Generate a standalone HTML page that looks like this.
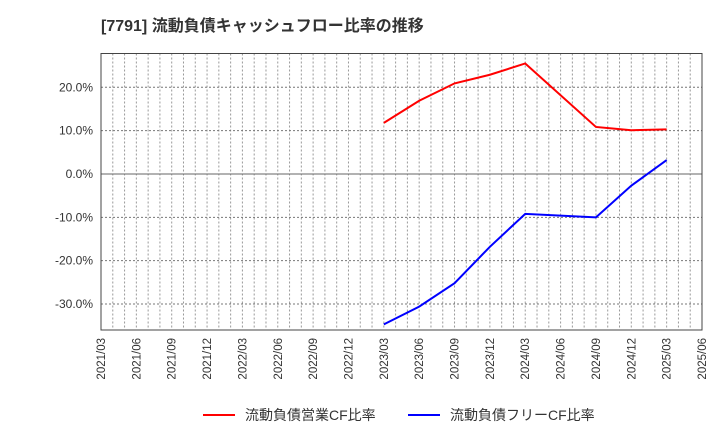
<!DOCTYPE html>
<html><head><meta charset="utf-8"><style>
body{margin:0;background:#fff;}
svg{display:block;font-family:"Liberation Sans","Noto Sans CJK JP",sans-serif;}
</style></head><body>
<svg id="c" width="720" height="440">
<text x="101" y="31" font-size="16" font-weight="bold" fill="#333">[7791]  流動負債キャッシュフロー比率の推移</text>
</svg>
<script>
const xLabels=["2021/03","2021/06","2021/09","2021/12","2022/03","2022/06","2022/09","2022/12","2023/03","2023/06","2023/09","2023/12","2024/03","2024/06","2024/09","2024/12","2025/03","2025/06"];
const yTicks=[20,10,0,-10,-20,-30];
const opMonths=["2023/03","2023/06","2023/09","2023/12","2024/03","2024/09","2024/12","2025/03"];
const opValues=[11.8,16.9,20.9,22.9,25.5,10.85,10.1,10.3];
const frMonths=["2023/03","2023/06","2023/09","2023/12","2024/03","2024/09","2024/12","2025/03"];
const frValues=[-34.7,-30.6,-25.2,-16.8,-9.2,-10.0,-2.7,3.2];
const L=101,R=702,T=53.5,B=330,yMax=27.8,yMin=-36;
const NS="http://www.w3.org/2000/svg",svg=document.getElementById("c");
function mIdx(s){const [y,m]=s.split("/").map(Number);return (y-2021)*12+(m-3);}
const nM=mIdx("2025/06");
const x=s=>L+(R-L)*mIdx(s)/nM;
const xm=i=>L+(R-L)*i/nM;
const y=v=>T+(B-T)*(yMax-v)/(yMax-yMin);
function el(t,a,txt){const e=document.createElementNS(NS,t);for(const k in a)e.setAttribute(k,a[k]);if(txt!==undefined)e.textContent=txt;svg.appendChild(e);return e;}
for(let i=1;i<nM;i++){const g=el("line",{x1:xm(i),x2:xm(i),y1:T,y2:B,stroke:"#999","stroke-dasharray":"2,2","stroke-width":1});

}
yTicks.forEach(v=>{const g=el("line",{x1:L,x2:R,y1:y(v),y2:y(v),stroke:v===0?"#666":"#777","stroke-dasharray":v===0?"":"2,2","stroke-width":1});


const t=el("text",{x:L-8,y:y(v)+4,"text-anchor":"end","font-size":12,fill:"#333"},v.toFixed(1)+"%");

});
const fr=el("rect",{x:L,y:T,width:R-L,height:B-T,fill:"none",stroke:"#444","stroke-width":1});


xLabels.forEach(s=>{const t=el("text",{transform:`translate(${x(s)+4},${B+8}) rotate(-90)`,"text-anchor":"end","font-size":11.5,fill:"#333"},s);

});
function line(ms,vs,c,n){const p=el("polyline",{points:ms.map((m,i)=>x(m)+","+y(vs[i])).join(" "),fill:"none",stroke:c,"stroke-width":2});

}
line(opMonths,opValues,"#ff0000","operating-cf-ratio-line");
line(frMonths,frValues,"#0000ff","free-cf-ratio-line");
const l1=el("line",{x1:203,x2:235,y1:415,y2:415,stroke:"#ff0000","stroke-width":2});


const t1=el("text",{x:245,y:420,"font-size":14,fill:"#333"},"流動負債営業CF比率");


const l2=el("line",{x1:408,x2:440,y1:415,y2:415,stroke:"#0000ff","stroke-width":2});


const t2=el("text",{x:450,y:420,"font-size":14,fill:"#333"},"流動負債フリーCF比率");


</script>
</body></html>
